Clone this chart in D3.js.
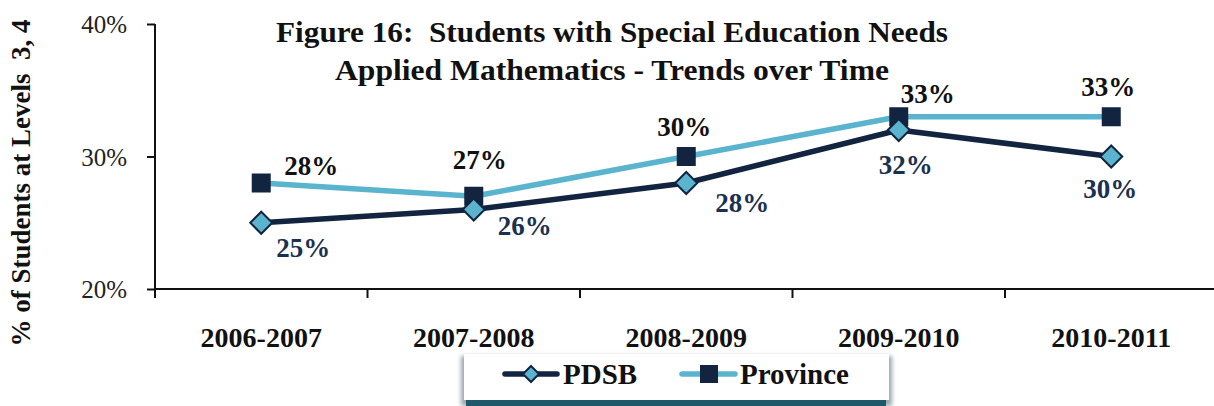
<!DOCTYPE html>
<html>
<head>
<meta charset="utf-8">
<script src="https://cdn.jsdelivr.net/npm/d3@7"></script>
<style>
  html, body { margin: 0; padding: 0; background: #fff; }
  svg { display: block; }
  text { font-family: "Liberation Serif", "Times New Roman", serif; white-space: pre; }
</style>
</head>
<body>
<svg id="chart" width="1214" height="406"></svg>
<script>
// ---- data ----
const categories = ["2006-2007", "2007-2008", "2008-2009", "2009-2010", "2010-2011"];
const pdsb = [25, 26, 28, 32, 30];
const province = [28, 27, 30, 33, 33];
const yTicks = [20, 30, 40];
const titleLines = ["Figure 16:  Students with Special Education Needs", "Applied Mathematics - Trends over Time"];
const yTitle = "% of Students at Levels  3, 4";
const seriesNames = ["PDSB", "Province"];

// ---- layout config (label offsets relative to point) ----
const provLabelOff = [[50, -8], [6, -27], [-2, -21], [29, -14], [-3, -21]];
const pdsbLabelOff = [[42, 34], [51, 25], [56, 29], [7, 44], [-1, 41]];
const titleWidths = [672, 554];

const NAVY = "#12243f", LIGHT = "#5bb4cd", PDSB_LBL = "#1b3150";

const svg = d3.select("#chart");
const x = d3.scaleBand().domain(categories).range([155, 1217.5]).padding(0);
const y = d3.scaleLinear().domain([20, 40]).range([289, 24]);
const cx = c => x(c) + x.bandwidth() / 2;

// Title
svg.append("g").selectAll("text").data(titleLines).join("text")
  .attr("x", 612).attr("y", (d, i) => 42 + i * 38)
  .attr("text-anchor", "middle")
  .attr("font-size", 29.5).attr("font-weight", "bold").attr("fill", "#111")
  .attr("textLength", (d, i) => titleWidths[i]).attr("lengthAdjust", "spacingAndGlyphs")
  .text(d => d);

// Y axis
const yAxis = svg.append("g").attr("transform", "translate(155,0)")
  .call(d3.axisLeft(y).tickValues(yTicks).tickSize(8).tickPadding(20).tickFormat(d => d + "%"));
yAxis.selectAll("path, line").attr("stroke", "#111").attr("stroke-width", 2);
yAxis.select(".domain").attr("d", `M0,${y(40)}V${y(20)}`);
yAxis.selectAll("text").attr("font-size", 25).attr("fill", "#222")
  .attr("font-family", "Liberation Serif").attr("dy", "0.35em");

// X axis
const xAxis = svg.append("g").attr("transform", "translate(0,289)")
  .call(d3.axisBottom(x).tickSize(0).tickPadding(38));
xAxis.select(".domain").attr("stroke", "#111").attr("stroke-width", 2)
  .attr("d", `M155,0H1214`);
xAxis.selectAll("text").attr("font-size", 28).attr("font-weight", "bold").attr("fill", "#111")
  .attr("font-family", "Liberation Serif");
const bounds = categories.map(c => x(c)).concat([x.range()[1]]);
xAxis.selectAll("line.bound").data(bounds).join("line").attr("class", "bound")
  .attr("x1", d => d).attr("x2", d => d).attr("y1", 0).attr("y2", 9)
  .attr("stroke", "#111").attr("stroke-width", 2);

// Y title
svg.append("text")
  .attr("transform", "translate(30,183) rotate(-90)")
  .attr("text-anchor", "middle")
  .attr("font-size", 27).attr("font-weight", "bold").attr("fill", "#111")
  .text(yTitle);

// Lines
const line = d3.line().x((d, i) => cx(categories[i])).y(d => y(d));
svg.append("path").datum(province).attr("d", line)
  .attr("fill", "none").attr("stroke", LIGHT).attr("stroke-width", 5.5).attr("stroke-linejoin", "round");
svg.append("path").datum(pdsb).attr("d", line)
  .attr("fill", "none").attr("stroke", NAVY).attr("stroke-width", 5.5).attr("stroke-linejoin", "round");

// Province markers (square)
const sq = 19;
svg.append("g").selectAll("rect").data(province).join("rect")
  .attr("x", (d, i) => cx(categories[i]) - sq / 2).attr("y", d => y(d) - sq / 2)
  .attr("width", sq).attr("height", sq).attr("fill", NAVY);

// PDSB markers (diamond)
const dm = 11;
svg.append("g").selectAll("path").data(pdsb).join("path")
  .attr("d", (d, i) => {
    const px = cx(categories[i]), py = y(d);
    return `M${px},${py - dm}L${px + dm},${py}L${px},${py + dm}L${px - dm},${py}Z`;
  })
  .attr("fill", LIGHT).attr("stroke", NAVY).attr("stroke-width", 2);

// Labels
svg.append("g").selectAll("text").data(province).join("text")
  .attr("x", (d, i) => cx(categories[i]) + provLabelOff[i][0])
  .attr("y", (d, i) => y(d) + provLabelOff[i][1])
  .attr("text-anchor", "middle").attr("font-size", 27).attr("font-weight", "bold").attr("fill", "#111")
  .text(d => d + "%");
svg.append("g").selectAll("text").data(pdsb).join("text")
  .attr("x", (d, i) => cx(categories[i]) + pdsbLabelOff[i][0])
  .attr("y", (d, i) => y(d) + pdsbLabelOff[i][1])
  .attr("text-anchor", "middle").attr("font-size", 27).attr("font-weight", "bold").attr("fill", PDSB_LBL)
  .text(d => d + "%");

// Legend
const defs = svg.append("defs");
const f = defs.append("filter").attr("id", "blur").attr("x", "-10%").attr("y", "-50%").attr("width", "120%").attr("height", "200%");
f.append("feGaussianBlur").attr("stdDeviation", 2);
const lg = svg.append("g");
lg.append("rect").attr("x", 461).attr("y", 356).attr("width", 431).attr("height", 50)
  .attr("fill", "#9aa8ad").attr("filter", "url(#blur)");
lg.append("rect").attr("x", 466).attr("y", 398).attr("width", 420).attr("height", 8)
  .attr("fill", "#1f5868");
lg.append("rect").attr("x", 464).attr("y", 354).attr("width", 425).attr("height", 46)
  .attr("fill", "#fff");
// PDSB entry
lg.append("line").attr("x1", 505).attr("x2", 557).attr("y1", 374).attr("y2", 374)
  .attr("stroke", NAVY).attr("stroke-width", 5.5).attr("stroke-linecap", "round");
lg.append("path").attr("d", "M531,366L539,374L531,382L523,374Z")
  .attr("fill", LIGHT).attr("stroke", NAVY).attr("stroke-width", 2);
lg.append("text").attr("x", 563).attr("y", 384).attr("font-size", 29).attr("font-weight", "bold").attr("fill", "#111").text(seriesNames[0]);
// Province entry
lg.append("line").attr("x1", 682).attr("x2", 735).attr("y1", 374).attr("y2", 374)
  .attr("stroke", LIGHT).attr("stroke-width", 5.5).attr("stroke-linecap", "round");
lg.append("rect").attr("x", 700).attr("y", 365).attr("width", 18).attr("height", 18).attr("fill", NAVY);
lg.append("text").attr("x", 740).attr("y", 384).attr("font-size", 29).attr("font-weight", "bold").attr("fill", "#111").text(seriesNames[1]);
</script>
</body>
</html>
